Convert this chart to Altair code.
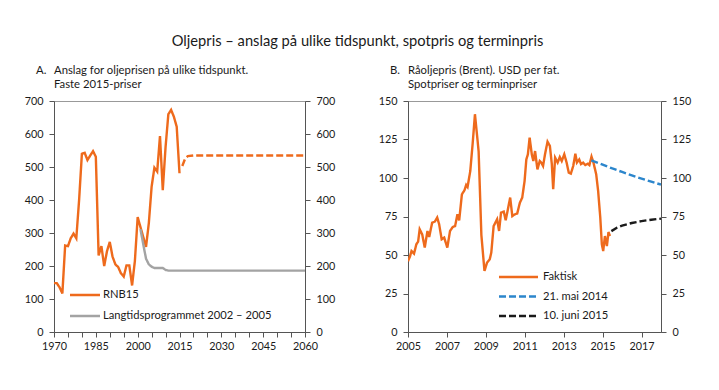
import altair as alt
import pandas as pd

FONT = "Lato"

# ---------------- Panel A data ----------------
rnb_years = list(range(1970, 2016))
rnb_values = [148, 148, 135, 117, 262, 260, 284, 298, 284, 400,
              540, 543, 521, 535, 548, 531, 232, 260, 200, 245,
              273, 228, 205, 197, 178, 168, 202, 202, 141, 215,
              348, 318, 288, 258, 330, 440, 498, 486, 594, 430,
              560, 660, 673, 652, 622, 481]
fc_years = [2016, 2017, 2018, 2020, 2060]
fc_values = [503, 525, 533, 535, 535]
ltp_years = [2001, 2002, 2003, 2004, 2005, 2006, 2007, 2008, 2009, 2010, 2011, 2060]
ltp_values = [312, 266, 222, 205, 198, 194, 194, 194, 194, 188, 186, 186]

# ---------------- Panel B data ----------------
brent_t = [2005.00, 2005.10, 2005.18, 2005.31, 2005.43, 2005.52, 2005.60, 2005.73, 2005.86,
           2006.00, 2006.09, 2006.24, 2006.38, 2006.50, 2006.60, 2006.73, 2006.86,
           2007.02, 2007.16, 2007.30, 2007.42, 2007.54, 2007.63, 2007.77, 2007.90, 2007.99,
           2008.06, 2008.20, 2008.32, 2008.44, 2008.57, 2008.63, 2008.70, 2008.77, 2008.93,
           2009.06, 2009.20, 2009.28, 2009.40, 2009.49, 2009.58, 2009.68, 2009.78, 2009.92,
           2010.02, 2010.15, 2010.25, 2010.36, 2010.49, 2010.61, 2010.75, 2010.87, 2010.99,
           2011.08, 2011.16, 2011.25, 2011.36, 2011.44, 2011.53, 2011.65, 2011.77, 2011.85, 2011.94,
           2012.04, 2012.17, 2012.29, 2012.39, 2012.46, 2012.56, 2012.69, 2012.80, 2012.90,
           2013.03, 2013.15, 2013.26, 2013.37, 2013.49, 2013.60, 2013.68, 2013.80, 2013.89,
           2014.00, 2014.11, 2014.24, 2014.32, 2014.43, 2014.53, 2014.67, 2014.77, 2014.88, 2014.96,
           2015.03, 2015.12, 2015.22, 2015.30, 2015.38]
brent_v = [46.0, 49.0, 52.6, 50.9, 57.0, 58.7, 66.7, 63.4, 54.8,
           65.6, 61.7, 71.0, 71.7, 74.3, 70.0, 60.2, 61.3,
           54.8, 65.6, 68.2, 68.8, 76.4, 72.5, 89.4, 92.0, 95.5,
           94.2, 104.5, 122.0, 141.4, 125.0, 117.0, 90.0, 63.0, 39.6,
           45.0, 47.2, 51.6, 68.8, 71.0, 73.2, 65.6, 77.5, 78.2,
           72.5, 80.8, 87.3, 75.3, 76.4, 76.9, 84.0, 87.3, 98.0,
           112.0, 115.4, 126.2, 115.4, 111.0, 117.5, 105.6, 111.0, 110.0, 107.8,
           115.4, 123.6, 120.8, 109.0, 92.7, 113.2, 110.0, 113.6, 111.0,
           115.4, 110.0, 103.5, 102.9, 107.8, 115.8, 110.0, 112.0, 109.0,
           110.0, 108.4, 109.3, 108.4, 113.9, 110.0, 102.4, 91.6, 74.3, 57.0,
           52.6, 62.3, 55.8, 64.9, 62.3]
may14_t = [2014.42, 2015.0, 2015.5, 2016.0, 2016.5, 2017.0, 2017.5, 2018.0]
may14_v = [111.5, 108.7, 106.2, 103.9, 101.7, 99.6, 97.6, 95.7]
jun15_t = [2015.45, 2015.75, 2016.0, 2016.5, 2017.0, 2017.5, 2018.0]
jun15_v = [65.5, 67.8, 69.1, 70.8, 72.0, 72.9, 73.6]

ORANGE = "#EE6A1C"
GRAY = "#A3A3A3"
BLUE = "#2C86CC"
BLACK = "#1A1A1A"
W_A, W_B, H = 251, 253, 231

dfA = pd.concat([
    pd.DataFrame({"x": rnb_years, "v": rnb_values, "s": "RNB15"}),
    pd.DataFrame({"x": fc_years, "v": fc_values, "s": "RNB15 anslag"}),
    pd.DataFrame({"x": ltp_years, "v": ltp_values, "s": "Langtidsprogrammet 2002 – 2005"}),
])
dfB = pd.concat([
    pd.DataFrame({"x": brent_t, "v": brent_v, "s": "Faktisk"}),
    pd.DataFrame({"x": may14_t, "v": may14_v, "s": "21. mai 2014"}),
    pd.DataFrame({"x": jun15_t, "v": jun15_v, "s": "10. juni 2015"}),
])

one = pd.DataFrame({"a": [0]})


def txt(s, x, y, size=11.3, align="left"):
    return alt.Chart(one).mark_text(text=s, align=align, baseline="middle", font=FONT,
                                    fontSize=size, color="#1a1a1a").encode(
        x=alt.value(x), y=alt.value(y))


def leg_line(x1, x2, y, color, dash):
    return alt.Chart(one).mark_rule(color=color, strokeWidth=2.4, strokeDash=dash).encode(
        x=alt.value(x1), x2=alt.value(x2), y=alt.value(y))


def panel(df, xdom, xvals, label_expr, ydom, yvals, series, colors, dashes):
    xenc = alt.X("x:Q", scale=alt.Scale(domain=xdom, nice=False, zero=False),
                 axis=alt.Axis(values=xvals, format="d", labelExpr=label_expr, title=None,
                               labelPadding=3, labelFlush=False))
    base = alt.Chart(df)
    lines = base.mark_line(strokeWidth=2.4, clip=True).encode(
        x=xenc,
        y=alt.Y("v:Q", scale=alt.Scale(domain=ydom, nice=False),
                axis=alt.Axis(values=yvals, title=None, orient="left", labelPadding=6)),
        color=alt.Color("s:N", scale=alt.Scale(domain=series, range=colors), legend=None),
        strokeDash=alt.StrokeDash("s:N", scale=alt.Scale(domain=series, range=dashes), legend=None),
        detail="s:N",
        order="x:Q",
    )
    right = base.mark_line(opacity=0).encode(
        x=xenc,
        y=alt.Y("v:Q", scale=alt.Scale(domain=ydom, nice=False),
                axis=alt.Axis(values=yvals, title=None, orient="right", labelPadding=6)),
        detail="s:N",
    )
    return lines, right


linesA, rightA = panel(
    dfA, [1970, 2060], list(range(1970, 2061, 5)),
    "datum.value % 15 == 5 ? datum.label : ''",
    [0, 700], list(range(0, 701, 100)),
    ["RNB15", "RNB15 anslag", "Langtidsprogrammet 2002 – 2005"],
    [ORANGE, ORANGE, GRAY], [[1, 0], [7, 3], [1, 0]])

linesB, rightB = panel(
    dfB, [2005, 2018], list(range(2005, 2018, 2)),
    "datum.label",
    [0, 150], list(range(0, 151, 25)),
    ["Faktisk", "21. mai 2014", "10. juni 2015"],
    [ORANGE, BLUE, BLACK], [[1, 0], [7, 3], [7, 3]])

chartA = alt.layer(
    linesA, rightA,
    txt("A.", -18, -30), txt("Anslag for oljeprisen på ulike tidspunkt.", 0, -30),
    txt("Faste 2015-priser", 0, -16),
    leg_line(16, 46, 194, ORANGE, [1, 0]), txt("RNB15", 49, 194, 11.2),
    leg_line(16, 46, 215, GRAY, [1, 0]), txt("Langtidsprogrammet 2002 – 2005", 49, 215, 11.2),
).resolve_scale(y="independent").properties(width=W_A, height=H)

chartB = alt.layer(
    linesB, rightB,
    txt("B.", -18, -30), txt("Råoljepris (Brent). USD per fat.", 0, -30),
    txt("Spotpriser og terminpriser", 0, -16),
    leg_line(91, 130, 176, ORANGE, [1, 0]), txt("Faktisk", 135, 176, 11.2),
    leg_line(91, 130, 195.5, BLUE, [7, 3]), txt("21. mai 2014", 135, 195.5, 11.2),
    leg_line(91, 130, 215, BLACK, [7, 3]), txt("10. juni 2015", 135, 215, 11.2),
).resolve_scale(y="independent").properties(width=W_B, height=H)

chart = alt.hconcat(chartA, chartB, spacing=41).resolve_scale(
    color="independent", strokeDash="independent", x="independent"
).properties(
    title=alt.TitleParams("Oljepris – anslag på ulike tidspunkt, spotpris og terminpris",
                          anchor="middle", font=FONT, fontSize=14.7, fontWeight="normal",
                          color="#1a1a1a", offset=16),
    padding={"left": 15, "top": 25, "right": 5, "bottom": 5},
).configure_view(stroke="#999999", strokeWidth=1).configure_axis(
    grid=False, domainColor="#555555", tickColor="#555555", tickSize=5,
    labelFont=FONT, labelFontSize=10.8, labelColor="#1a1a1a", domainWidth=1, tickWidth=1,
)

chart.save("out.html", embed_options={"renderer": "svg", "actions": False})
